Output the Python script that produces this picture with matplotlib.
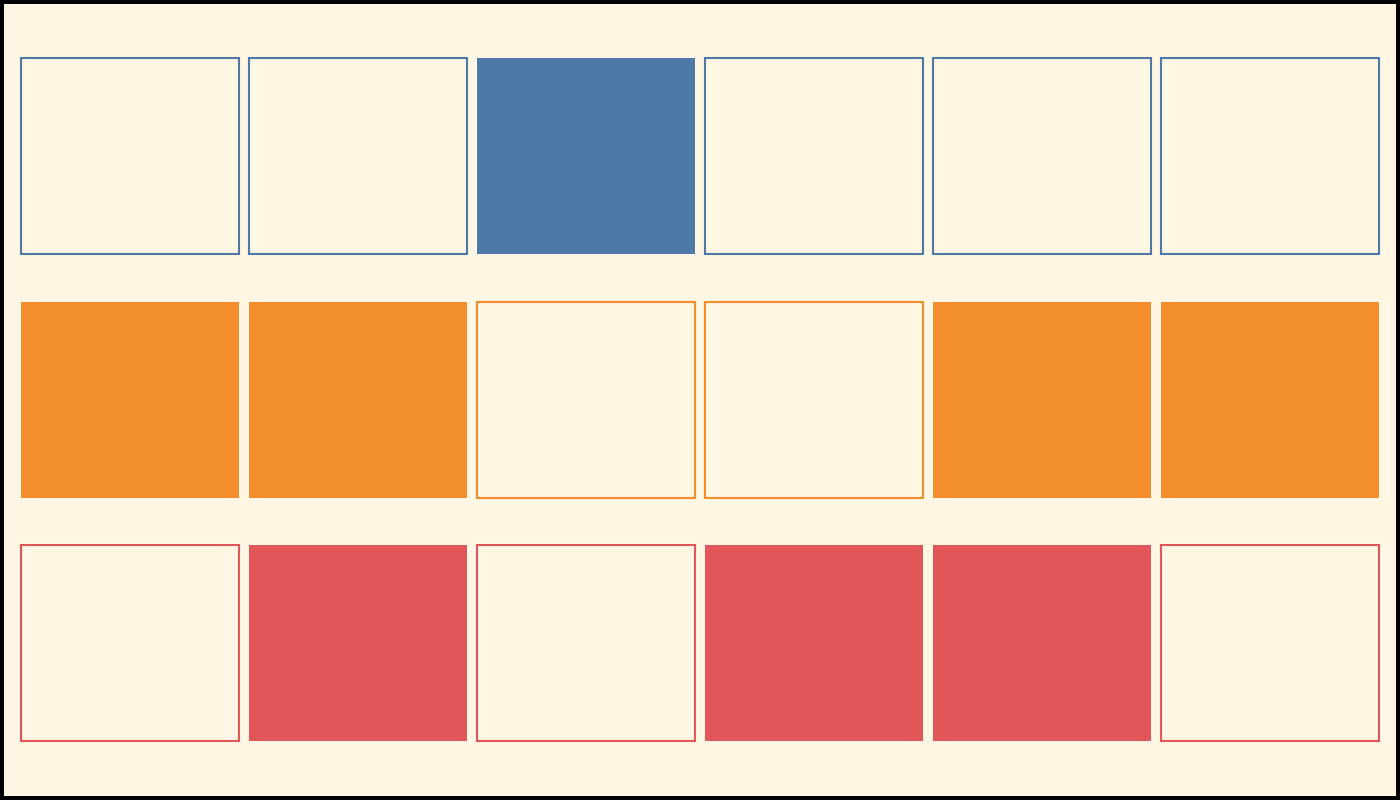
import matplotlib.pyplot as plt
from matplotlib.patches import Rectangle

# Grid of on/off cells, one row per series
series = ["blue", "orange", "red"]
colors = ["#4E79A7", "#F28E2B", "#E15759"]
row_blue = [0, 0, 1, 0, 0, 0]
row_orange = [1, 1, 0, 0, 1, 1]
row_red = [0, 1, 0, 1, 1, 0]
rows = [row_blue, row_orange, row_red]

bg = "#FFF6E4"
cell_w = 218 / 228
cell_h = 196 / 243.5

fig = plt.figure(figsize=(14, 8), dpi=100)
fig.patch.set_facecolor(bg)
fig.patch.set_edgecolor("black")
fig.patch.set_linewidth(5.76)

ax = fig.add_axes([0, 0, 1, 1])
ax.set_facecolor(bg)
ax.set_xlim(-21 / 228, 1379 / 228)
ax.set_ylim(742 / 243.5, -58 / 243.5)
ax.axis("off")

for j, (vals, c) in enumerate(zip(rows, colors)):
    for i, v in enumerate(vals):
        if v:
            ax.add_patch(Rectangle((i, j), cell_w, cell_h, facecolor=c, edgecolor="none"))
        else:
            ax.add_patch(Rectangle((i, j), cell_w, cell_h, facecolor=bg, edgecolor=c, linewidth=1.5))

fig.savefig("out.png", dpi=100, facecolor=bg, edgecolor="black")
